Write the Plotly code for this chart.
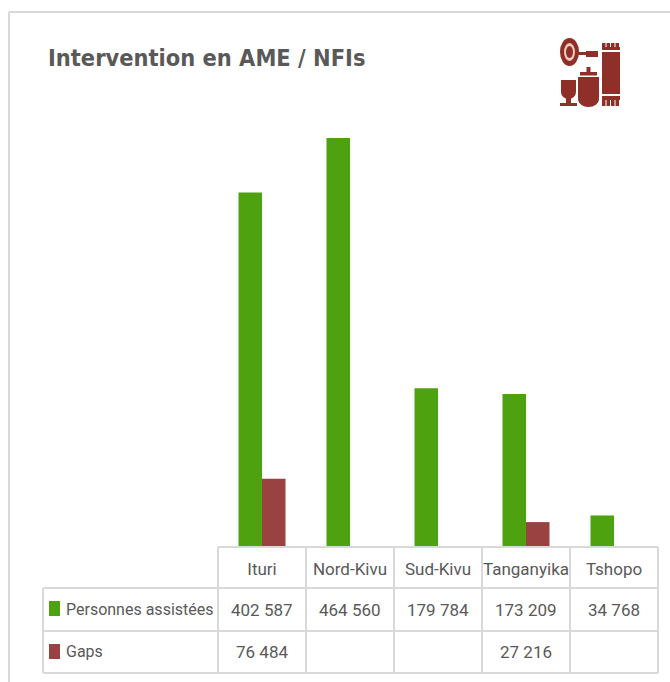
import plotly.graph_objects as go

W, H = 670, 682
categories = ["Ituri", "Nord-Kivu", "Sud-Kivu", "Tanganyika", "Tshopo"]
assisted = [402587, 464560, 179784, 173209, 34768]
gaps = [76484, None, None, 27216, None]
title_text = "Intervention en AME / NFIs"
series_names = ["Personnes assistées", "Gaps"]
GREEN, RED = "#4EA10F", "#9A4142"
ICON = "#8E2F28"
LINE = "#D9D9D9"
TXT = "#595959"
FONT = "Roboto"

def px(x): return x / W
def py(y): return 1 - y / H
def fmt(v): return "" if v is None else f"{v:,}".replace(",", " ")

fig = go.Figure()
fig.add_bar(name=series_names[0], x=categories, y=assisted, marker=dict(color=GREEN, line_width=0))
fig.add_bar(name=series_names[1], x=categories, y=gaps, marker=dict(color=RED, line_width=0))

shapes = []
def line(x0, y0, x1, y1, w=2, c=LINE):
    shapes.append(dict(type="line", xref="paper", yref="paper", x0=px(x0), y0=py(y0), x1=px(x1), y1=py(y1),
                       line=dict(color=c, width=w)))
def rect(x0, y0, x1, y1, c=ICON):
    shapes.append(dict(type="rect", xref="paper", yref="paper", x0=px(x0), y0=py(y0), x1=px(x1), y1=py(y1),
                       fillcolor=c, line_width=0))
def oval(x0, y0, x1, y1, c=ICON):
    shapes.append(dict(type="circle", xref="paper", yref="paper", x0=px(x0), y0=py(y0), x1=px(x1), y1=py(y1),
                       fillcolor=c, line_width=0))

# outer frame
line(9, 12, 670, 12)
line(9, 12, 9, 682)
# data table grid
cols = [218, 306, 394, 482, 570, 658]
line(218, 547, 658, 547)
line(43, 588, 658, 588)
line(43, 631, 658, 631)
line(43, 673, 658, 673)
line(43, 588, 43, 673)
for c in cols:
    line(c, 547, c, 673)
# legend keys
rect(49, 601, 60, 616, GREEN)
rect(49, 644, 60, 659, RED)
# decorative icon: pan
oval(560, 38, 579, 66)
oval(564, 43, 575, 61, "#F2C9BE")
oval(566, 46, 573, 58)
rect(577, 52, 590, 55)
rect(586, 51, 598, 57)
# rug
rect(602, 52, 620, 94)
for tx in (602, 606.5, 611, 615.5):
    rect(tx, 43, tx + 3.5, 49)
    rect(tx, 99, tx + 3.5, 106)
rect(602, 47, 620, 50)
rect(602, 96, 620, 100)
# cup
rect(561, 80, 576, 92)
oval(561, 85, 576, 99)
rect(566, 98, 571, 103)
rect(560, 103, 577, 106)
# pot
rect(580, 72, 597, 75.5)
rect(586.5, 67, 590.5, 72)
rect(578, 77, 599, 98)
oval(578, 92, 599, 107)

ann = []
def label(x, y, text, size=17, **kw):
    ann.append(dict(x=x, y=py(y), text=text, showarrow=False, yref="paper",
                    font=dict(family=FONT, size=size, color=TXT), **kw))
for i, cat in enumerate(categories):
    label(cat, 610, fmt(assisted[i]), xref="x", xanchor="center", yanchor="middle")
    label(cat, 652, fmt(gaps[i]), xref="x", xanchor="center", yanchor="middle")
label(px(64), 609, series_names[0], size=16, xref="paper", xanchor="left", yanchor="middle")
label(px(64), 651, series_names[1], size=16, xref="paper", xanchor="left", yanchor="middle")
ann.append(dict(x=px(46), y=py(58), xref="paper", yref="paper", text=f"<b>{title_text}</b>", showarrow=False,
                xanchor="left", yanchor="middle",
                font=dict(family="DejaVu Sans Condensed, DejaVu Sans", size=23.4, color=TXT)))

fig.update_layout(
    width=W, height=H, margin=dict(l=0, r=0, t=0, b=0),
    paper_bgcolor="white", plot_bgcolor="white", showlegend=False,
    barmode="group", bargap=0.466, bargroupgap=0,
    shapes=shapes, annotations=ann,
    xaxis=dict(domain=[px(218), px(658)], type="category", categoryorder="array", categoryarray=categories,
               showgrid=False, zeroline=False, showline=False, ticks="", ticklabelstandoff=11,
               tickfont=dict(family=FONT, size=17, color=TXT)),
    yaxis=dict(domain=[py(546), py(107)], range=[0, 500000], visible=False),
)
fig.write_html("out.html", config=dict(displayModeBar=False), post_script="document.body.style.margin='0';")
